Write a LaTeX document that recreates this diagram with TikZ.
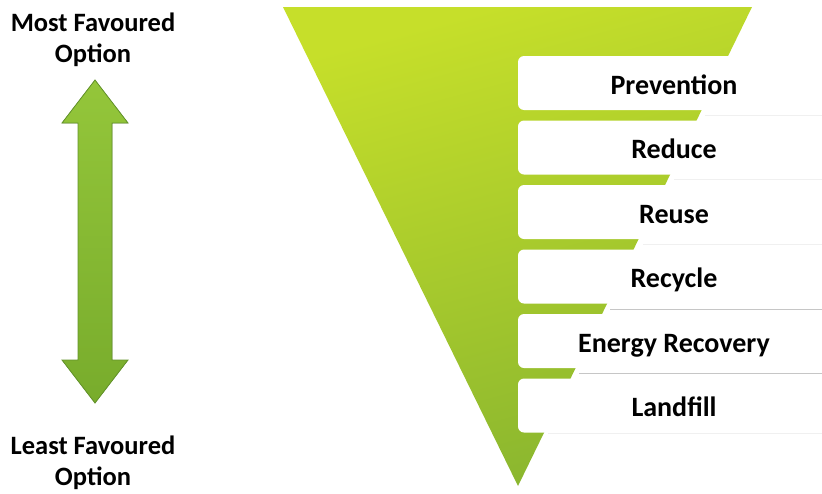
\documentclass[tikz,border=0pt]{standalone}
\usepackage{fontspec}
\setmainfont{Carlito}
\begin{document}
\begin{tikzpicture}[x=1pt,y=-1pt,
  lvl/.style={rectangle, fill=white, draw=none, minimum width=312pt, minimum height=54pt,
    rounded corners=6pt, inner sep=0pt, text height=22pt, text depth=0pt,
    font=\fontsize{28}{30}\selectfont\bfseries},
  side/.style={align=center, inner sep=0pt, font=\fontsize{26.5}{30.5}\selectfont\bfseries},
  sep/.style={draw=gray!45, line width=1pt},
  faint/.style={draw=gray!12, line width=1pt}]
\definecolor{lime}{HTML}{C6DF2A}
\definecolor{limedark}{HTML}{8AB62F}
\definecolor{arrowg}{HTML}{94C63A}
\definecolor{arrowd}{HTML}{78AC2C}
\definecolor{arrowb}{HTML}{63942A}
\useasboundingbox (0,0) rectangle (822,493);
\clip (0,0) rectangle (822,493);
% triangle
\coordinate (tl) at (283,7);
\coordinate (tr) at (752,7);
\coordinate (ap) at (518,486);
\shade[top color=lime, bottom color=limedark, shading angle=15] (tl) -- (tr) -- (ap) -- cycle;
% level boxes
\node[lvl] (prev) at (674,83) {Prevention};
\node[lvl] (redu) at (674,147.5) {Reduce};
\node[lvl] (reus) at (674,212) {Reuse};
\node[lvl] (recy) at (674,276.5) {Recycle};
\node[lvl] (ener) at (674,341) {Energy Recovery};
\node[lvl] (land) at (674,405.5) {Landfill};
% separators beyond triangle
\draw[faint] (705,115) -- (822,115);
\draw[faint] (674,179) -- (822,179);
\draw[faint] (643,244) -- (822,244);
\draw[sep] (610,309) -- (822,309);
\draw[sep] (579,373) -- (822,373);
\draw[faint] (548,433) -- (822,433);
% double arrow
\filldraw[draw=arrowb, line width=0.8pt, top color=arrowg, bottom color=arrowd]
  (95,80) -- (128,123) -- (112,123) -- (112,360) -- (128,360) -- (95,403)
  -- (62,360) -- (78,360) -- (78,123) -- (62,123) -- cycle;
\coordinate (arrtop) at (95,80);
\coordinate (arrbot) at (95,403);
% side texts (base anchor = baseline of last line)
\node[side, anchor=base] (most) at (93,62) {Most Favoured\\Option};
\node[side, anchor=base] (least) at (93,485) {Least Favoured\\Option};
\end{tikzpicture}
\end{document}
